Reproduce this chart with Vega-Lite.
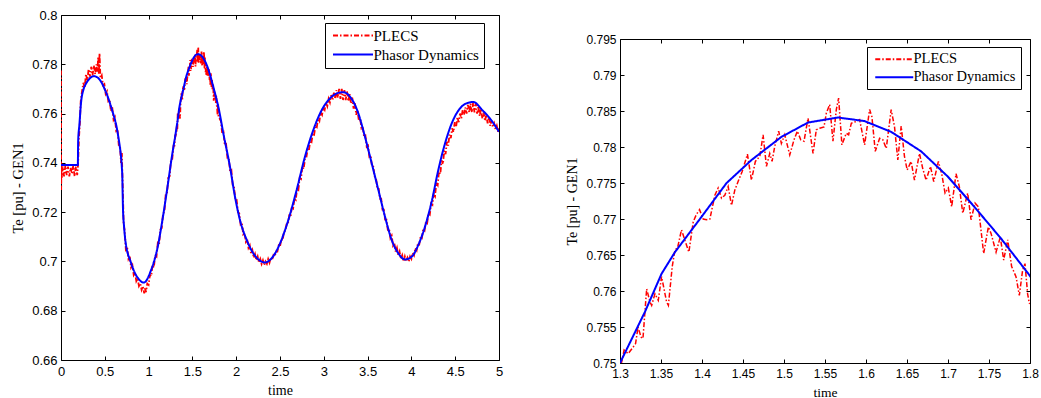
{
"$schema":"https://vega.github.io/schema/vega-lite/v6.json",
"padding":{"left":10,"top":8,"right":0,"bottom":0},
"background":"white",
"spacing":61,
"resolve":{"scale":{"color":"independent","strokeDash":"independent"}},
"config":{
"view":{"stroke":"#000","strokeWidth":1},
"axis":{"domain":false,"grid":false,"tickSize":-4,"tickColor":"#000","tickWidth":1,"labelFont":"Liberation Sans","labelColor":"#000","titleFont":"Liberation Serif","titleFontWeight":"normal","titleColor":"#000","labelFlush":false,"labelOverlap":false}
},
"datasets":{
"red":[
{"t":0,"v":0.7775,"s":"PLECS"},{"t":0.002,"v":0.729,"s":"PLECS"},{"t":0.005,"v":0.74,"s":"PLECS"},{"t":0.01,"v":0.734,"s":"PLECS"},{"t":0.02,"v":0.7385,"s":"PLECS"},{"t":0.035,"v":0.7345,"s":"PLECS"},{"t":0.05,"v":0.739,"s":"PLECS"},{"t":0.065,"v":0.735,"s":"PLECS"},{"t":0.08,"v":0.7385,"s":"PLECS"},{"t":0.095,"v":0.7345,"s":"PLECS"},{"t":0.11,"v":0.738,"s":"PLECS"},{"t":0.125,"v":0.7355,"s":"PLECS"},{"t":0.14,"v":0.739,"s":"PLECS"},{"t":0.155,"v":0.7345,"s":"PLECS"},{"t":0.17,"v":0.7385,"s":"PLECS"},{"t":0.185,"v":0.735,"s":"PLECS"},{"t":0.195,"v":0.7395,"s":"PLECS"},{"t":0.205,"v":0.75,"s":"PLECS"},{"t":0.215,"v":0.756,"s":"PLECS"},{"t":0.225,"v":0.765,"s":"PLECS"},{"t":0.24,"v":0.769,"s":"PLECS"},{"t":0.255,"v":0.7725,"s":"PLECS"},{"t":0.27,"v":0.7705,"s":"PLECS"},{"t":0.285,"v":0.776,"s":"PLECS"},{"t":0.3,"v":0.7735,"s":"PLECS"},{"t":0.315,"v":0.778,"s":"PLECS"},{"t":0.33,"v":0.775,"s":"PLECS"},{"t":0.345,"v":0.779,"s":"PLECS"},{"t":0.36,"v":0.7755,"s":"PLECS"},{"t":0.375,"v":0.7795,"s":"PLECS"},{"t":0.39,"v":0.776,"s":"PLECS"},{"t":0.405,"v":0.78,"s":"PLECS"},{"t":0.415,"v":0.777,"s":"PLECS"},{"t":0.425,"v":0.783,"s":"PLECS"},{"t":0.432,"v":0.776,"s":"PLECS"},{"t":0.44,"v":0.7845,"s":"PLECS"},{"t":0.45,"v":0.7745,"s":"PLECS"},{"t":0.465,"v":0.7755,"s":"PLECS"},{"t":0.48,"v":0.7715,"s":"PLECS"},{"t":0.495,"v":0.772,"s":"PLECS"},{"t":0.51,"v":0.768,"s":"PLECS"},{"t":0.525,"v":0.769,"s":"PLECS"},{"t":0.54,"v":0.765,"s":"PLECS"},{"t":0.555,"v":0.7655,"s":"PLECS"},{"t":0.57,"v":0.761,"s":"PLECS"},{"t":0.585,"v":0.7625,"s":"PLECS"},{"t":0.6,"v":0.7575,"s":"PLECS"},{"t":0.615,"v":0.7585,"s":"PLECS"},{"t":0.63,"v":0.753,"s":"PLECS"},{"t":0.645,"v":0.7535,"s":"PLECS"},{"t":0.66,"v":0.747,"s":"PLECS"},{"t":0.675,"v":0.7465,"s":"PLECS"},{"t":0.685,"v":0.74,"s":"PLECS"},{"t":0.695,"v":0.744,"s":"PLECS"},{"t":0.7,"v":0.736,"s":"PLECS"},{"t":0.705,"v":0.73,"s":"PLECS"},{"t":0.71,"v":0.723,"s":"PLECS"},{"t":0.715,"v":0.715,"s":"PLECS"},{"t":0.725,"v":0.713,"s":"PLECS"},{"t":0.74,"v":0.705,"s":"PLECS"},{"t":0.755,"v":0.706,"s":"PLECS"},{"t":0.77,"v":0.701,"s":"PLECS"},{"t":0.785,"v":0.702,"s":"PLECS"},{"t":0.8,"v":0.6975,"s":"PLECS"},{"t":0.815,"v":0.6985,"s":"PLECS"},{"t":0.83,"v":0.6945,"s":"PLECS"},{"t":0.845,"v":0.6955,"s":"PLECS"},{"t":0.86,"v":0.692,"s":"PLECS"},{"t":0.875,"v":0.693,"s":"PLECS"},{"t":0.89,"v":0.69,"s":"PLECS"},{"t":0.905,"v":0.691,"s":"PLECS"},{"t":0.92,"v":0.6885,"s":"PLECS"},{"t":0.935,"v":0.69,"s":"PLECS"},{"t":0.95,"v":0.687,"s":"PLECS"},{"t":0.96,"v":0.6895,"s":"PLECS"},{"t":0.97,"v":0.6875,"s":"PLECS"},{"t":0.985,"v":0.691,"s":"PLECS"},{"t":1,"v":0.6905,"s":"PLECS"},{"t":1.015,"v":0.6945,"s":"PLECS"},{"t":1.03,"v":0.694,"s":"PLECS"},{"t":1.045,"v":0.6985,"s":"PLECS"},{"t":1.06,"v":0.6975,"s":"PLECS"},{"t":1.075,"v":0.7025,"s":"PLECS"},{"t":1.09,"v":0.702,"s":"PLECS"},{"t":1.105,"v":0.7075,"s":"PLECS"},{"t":1.12,"v":0.707,"s":"PLECS"},{"t":1.135,"v":0.713,"s":"PLECS"},{"t":1.15,"v":0.7135,"s":"PLECS"},{"t":1.165,"v":0.7195,"s":"PLECS"},{"t":1.18,"v":0.72,"s":"PLECS"},{"t":1.195,"v":0.727,"s":"PLECS"},{"t":1.21,"v":0.7275,"s":"PLECS"},{"t":1.225,"v":0.734,"s":"PLECS"},{"t":1.24,"v":0.7345,"s":"PLECS"},{"t":1.255,"v":0.741,"s":"PLECS"},{"t":1.27,"v":0.7415,"s":"PLECS"},{"t":1.285,"v":0.747,"s":"PLECS"},{"t":1.295,"v":0.747,"s":"PLECS"},
{"t":1.3,"v":0.7495,"s":"PLECS"},{"t":1.302,"v":0.7501,"s":"PLECS"},{"t":1.305,"v":0.7518,"s":"PLECS"},{"t":1.31,"v":0.7513,"s":"PLECS"},{"t":1.316,"v":0.7522,"s":"PLECS"},{"t":1.319,"v":0.7527,"s":"PLECS"},{"t":1.322,"v":0.755,"s":"PLECS"},{"t":1.3256,"v":0.7536,"s":"PLECS"},{"t":1.328,"v":0.7534,"s":"PLECS"},{"t":1.3325,"v":0.7603,"s":"PLECS"},{"t":1.3365,"v":0.7585,"s":"PLECS"},{"t":1.3386,"v":0.758,"s":"PLECS"},{"t":1.3426,"v":0.7596,"s":"PLECS"},{"t":1.3467,"v":0.7587,"s":"PLECS"},{"t":1.3507,"v":0.762,"s":"PLECS"},{"t":1.3568,"v":0.7585,"s":"PLECS"},{"t":1.359,"v":0.758,"s":"PLECS"},{"t":1.3637,"v":0.7634,"s":"PLECS"},{"t":1.367,"v":0.7657,"s":"PLECS"},{"t":1.3702,"v":0.766,"s":"PLECS"},{"t":1.375,"v":0.7685,"s":"PLECS"},{"t":1.379,"v":0.7671,"s":"PLECS"},{"t":1.384,"v":0.7654,"s":"PLECS"},{"t":1.3893,"v":0.7696,"s":"PLECS"},{"t":1.393,"v":0.7706,"s":"PLECS"},{"t":1.397,"v":0.7713,"s":"PLECS"},{"t":1.4015,"v":0.77,"s":"PLECS"},{"t":1.4055,"v":0.7699,"s":"PLECS"},{"t":1.4096,"v":0.77,"s":"PLECS"},{"t":1.4157,"v":0.7733,"s":"PLECS"},{"t":1.4197,"v":0.7743,"s":"PLECS"},{"t":1.4238,"v":0.7729,"s":"PLECS"},{"t":1.4278,"v":0.7733,"s":"PLECS"},{"t":1.4319,"v":0.7745,"s":"PLECS"},{"t":1.436,"v":0.7719,"s":"PLECS"},{"t":1.44,"v":0.774,"s":"PLECS"},{"t":1.444,"v":0.7752,"s":"PLECS"},{"t":1.449,"v":0.7766,"s":"PLECS"},{"t":1.4554,"v":0.779,"s":"PLECS"},{"t":1.4603,"v":0.7754,"s":"PLECS"},{"t":1.4651,"v":0.778,"s":"PLECS"},{"t":1.4705,"v":0.7787,"s":"PLECS"},{"t":1.4745,"v":0.7817,"s":"PLECS"},{"t":1.4786,"v":0.7773,"s":"PLECS"},{"t":1.4826,"v":0.7791,"s":"PLECS"},{"t":1.4855,"v":0.778,"s":"PLECS"},{"t":1.4887,"v":0.7801,"s":"PLECS"},{"t":1.4935,"v":0.7822,"s":"PLECS"},{"t":1.4968,"v":0.7805,"s":"PLECS"},{"t":1.5009,"v":0.7817,"s":"PLECS"},{"t":1.507,"v":0.7789,"s":"PLECS"},{"t":1.5122,"v":0.781,"s":"PLECS"},{"t":1.5163,"v":0.7822,"s":"PLECS"},{"t":1.5204,"v":0.781,"s":"PLECS"},{"t":1.5244,"v":0.7808,"s":"PLECS"},{"t":1.5293,"v":0.784,"s":"PLECS"},{"t":1.5354,"v":0.7791,"s":"PLECS"},{"t":1.5394,"v":0.7824,"s":"PLECS"},{"t":1.5435,"v":0.7826,"s":"PLECS"},{"t":1.5488,"v":0.7828,"s":"PLECS"},{"t":1.5516,"v":0.7847,"s":"PLECS"},{"t":1.5557,"v":0.7859,"s":"PLECS"},{"t":1.5597,"v":0.7808,"s":"PLECS"},{"t":1.5638,"v":0.7852,"s":"PLECS"},{"t":1.5666,"v":0.7868,"s":"PLECS"},{"t":1.5706,"v":0.7803,"s":"PLECS"},{"t":1.5759,"v":0.7819,"s":"PLECS"},{"t":1.5788,"v":0.7817,"s":"PLECS"},{"t":1.5821,"v":0.7833,"s":"PLECS"},{"t":1.5869,"v":0.7835,"s":"PLECS"},{"t":1.5922,"v":0.7838,"s":"PLECS"},{"t":1.5983,"v":0.7803,"s":"PLECS"},{"t":1.6044,"v":0.7852,"s":"PLECS"},{"t":1.6072,"v":0.7842,"s":"PLECS"},{"t":1.6113,"v":0.7794,"s":"PLECS"},{"t":1.6166,"v":0.7812,"s":"PLECS"},{"t":1.6206,"v":0.781,"s":"PLECS"},{"t":1.6247,"v":0.7798,"s":"PLECS"},{"t":1.6307,"v":0.7852,"s":"PLECS"},{"t":1.6348,"v":0.7828,"s":"PLECS"},{"t":1.6388,"v":0.7782,"s":"PLECS"},{"t":1.6429,"v":0.7829,"s":"PLECS"},{"t":1.6469,"v":0.7787,"s":"PLECS"},{"t":1.6502,"v":0.7768,"s":"PLECS"},{"t":1.655,"v":0.778,"s":"PLECS"},{"t":1.6591,"v":0.7754,"s":"PLECS"},{"t":1.6652,"v":0.7791,"s":"PLECS"},{"t":1.6692,"v":0.777,"s":"PLECS"},{"t":1.6733,"v":0.7754,"s":"PLECS"},{"t":1.6786,"v":0.7773,"s":"PLECS"},{"t":1.6826,"v":0.7752,"s":"PLECS"},{"t":1.6883,"v":0.778,"s":"PLECS"},{"t":1.6923,"v":0.7763,"s":"PLECS"},{"t":1.6964,"v":0.7736,"s":"PLECS"},{"t":1.7004,"v":0.7743,"s":"PLECS"},{"t":1.7045,"v":0.7717,"s":"PLECS"},{"t":1.7098,"v":0.7763,"s":"PLECS"},{"t":1.7138,"v":0.7745,"s":"PLECS"},{"t":1.718,"v":0.7708,"s":"PLECS"},{"t":1.724,"v":0.7736,"s":"PLECS"},{"t":1.7281,"v":0.7699,"s":"PLECS"},{"t":1.733,"v":0.7722,"s":"PLECS"},{"t":1.737,"v":0.7717,"s":"PLECS"},{"t":1.7435,"v":0.7652,"s":"PLECS"},{"t":1.7492,"v":0.7689,"s":"PLECS"},{"t":1.7525,"v":0.768,"s":"PLECS"},{"t":1.7586,"v":0.7654,"s":"PLECS"},{"t":1.7638,"v":0.7675,"s":"PLECS"},{"t":1.7679,"v":0.7643,"s":"PLECS"},{"t":1.7728,"v":0.7671,"s":"PLECS"},{"t":1.7776,"v":0.7634,"s":"PLECS"},{"t":1.7829,"v":0.762,"s":"PLECS"},{"t":1.787,"v":0.7594,"s":"PLECS"},{"t":1.791,"v":0.7629,"s":"PLECS"},{"t":1.7939,"v":0.7638,"s":"PLECS"},{"t":1.7971,"v":0.7596,"s":"PLECS"},{"t":1.7992,"v":0.7583,"s":"PLECS"},
{"t":1.81,"v":0.758,"s":"PLECS"},{"t":1.825,"v":0.757,"s":"PLECS"},{"t":1.84,"v":0.752,"s":"PLECS"},{"t":1.855,"v":0.7525,"s":"PLECS"},{"t":1.87,"v":0.747,"s":"PLECS"},{"t":1.885,"v":0.7475,"s":"PLECS"},{"t":1.9,"v":0.742,"s":"PLECS"},{"t":1.915,"v":0.742,"s":"PLECS"},{"t":1.93,"v":0.7365,"s":"PLECS"},{"t":1.945,"v":0.737,"s":"PLECS"},{"t":1.96,"v":0.731,"s":"PLECS"},{"t":1.975,"v":0.7305,"s":"PLECS"},{"t":1.99,"v":0.725,"s":"PLECS"},{"t":2.005,"v":0.725,"s":"PLECS"},{"t":2.02,"v":0.72,"s":"PLECS"},{"t":2.035,"v":0.7195,"s":"PLECS"},{"t":2.05,"v":0.715,"s":"PLECS"},{"t":2.065,"v":0.7155,"s":"PLECS"},{"t":2.08,"v":0.711,"s":"PLECS"},{"t":2.095,"v":0.7115,"s":"PLECS"},{"t":2.11,"v":0.708,"s":"PLECS"},{"t":2.125,"v":0.709,"s":"PLECS"},{"t":2.14,"v":0.7055,"s":"PLECS"},{"t":2.155,"v":0.7065,"s":"PLECS"},{"t":2.17,"v":0.703,"s":"PLECS"},{"t":2.185,"v":0.7045,"s":"PLECS"},{"t":2.2,"v":0.7015,"s":"PLECS"},{"t":2.215,"v":0.703,"s":"PLECS"},{"t":2.23,"v":0.7005,"s":"PLECS"},{"t":2.245,"v":0.702,"s":"PLECS"},{"t":2.26,"v":0.6995,"s":"PLECS"},{"t":2.275,"v":0.701,"s":"PLECS"},{"t":2.29,"v":0.699,"s":"PLECS"},{"t":2.305,"v":0.7005,"s":"PLECS"},{"t":2.32,"v":0.6985,"s":"PLECS"},{"t":2.335,"v":0.7,"s":"PLECS"},{"t":2.35,"v":0.699,"s":"PLECS"},{"t":2.365,"v":0.701,"s":"PLECS"},{"t":2.38,"v":0.6995,"s":"PLECS"},{"t":2.395,"v":0.7015,"s":"PLECS"},{"t":2.41,"v":0.7005,"s":"PLECS"},{"t":2.425,"v":0.7025,"s":"PLECS"},{"t":2.44,"v":0.702,"s":"PLECS"},{"t":2.455,"v":0.704,"s":"PLECS"},{"t":2.47,"v":0.704,"s":"PLECS"},{"t":2.485,"v":0.7065,"s":"PLECS"},{"t":2.5,"v":0.706,"s":"PLECS"},{"t":2.515,"v":0.709,"s":"PLECS"},{"t":2.53,"v":0.7085,"s":"PLECS"},{"t":2.545,"v":0.712,"s":"PLECS"},{"t":2.56,"v":0.7125,"s":"PLECS"},{"t":2.575,"v":0.715,"s":"PLECS"},{"t":2.59,"v":0.715,"s":"PLECS"},{"t":2.605,"v":0.7185,"s":"PLECS"},{"t":2.62,"v":0.718,"s":"PLECS"},{"t":2.635,"v":0.722,"s":"PLECS"},{"t":2.65,"v":0.7215,"s":"PLECS"},{"t":2.665,"v":0.7255,"s":"PLECS"},{"t":2.68,"v":0.725,"s":"PLECS"},{"t":2.695,"v":0.7295,"s":"PLECS"},{"t":2.71,"v":0.729,"s":"PLECS"},{"t":2.725,"v":0.734,"s":"PLECS"},{"t":2.74,"v":0.7335,"s":"PLECS"},{"t":2.755,"v":0.7385,"s":"PLECS"},{"t":2.77,"v":0.7375,"s":"PLECS"},{"t":2.785,"v":0.7415,"s":"PLECS"},{"t":2.8,"v":0.742,"s":"PLECS"},{"t":2.815,"v":0.7455,"s":"PLECS"},{"t":2.83,"v":0.745,"s":"PLECS"},{"t":2.845,"v":0.749,"s":"PLECS"},{"t":2.86,"v":0.7485,"s":"PLECS"},{"t":2.875,"v":0.752,"s":"PLECS"},{"t":2.89,"v":0.7515,"s":"PLECS"},{"t":2.905,"v":0.755,"s":"PLECS"},{"t":2.92,"v":0.7545,"s":"PLECS"},{"t":2.935,"v":0.758,"s":"PLECS"},{"t":2.95,"v":0.757,"s":"PLECS"},{"t":2.965,"v":0.7605,"s":"PLECS"},{"t":2.98,"v":0.7595,"s":"PLECS"},{"t":2.995,"v":0.7625,"s":"PLECS"},{"t":3.01,"v":0.7615,"s":"PLECS"},{"t":3.025,"v":0.7645,"s":"PLECS"},{"t":3.04,"v":0.763,"s":"PLECS"},{"t":3.055,"v":0.766,"s":"PLECS"},{"t":3.07,"v":0.7645,"s":"PLECS"},{"t":3.085,"v":0.7675,"s":"PLECS"},{"t":3.1,"v":0.7655,"s":"PLECS"},{"t":3.115,"v":0.7685,"s":"PLECS"},{"t":3.13,"v":0.766,"s":"PLECS"},{"t":3.145,"v":0.7695,"s":"PLECS"},{"t":3.16,"v":0.7665,"s":"PLECS"},{"t":3.175,"v":0.77,"s":"PLECS"},{"t":3.19,"v":0.766,"s":"PLECS"},{"t":3.205,"v":0.77,"s":"PLECS"},{"t":3.22,"v":0.7655,"s":"PLECS"},{"t":3.235,"v":0.7695,"s":"PLECS"},{"t":3.25,"v":0.7655,"s":"PLECS"},{"t":3.265,"v":0.769,"s":"PLECS"},{"t":3.28,"v":0.765,"s":"PLECS"},{"t":3.295,"v":0.768,"s":"PLECS"},{"t":3.31,"v":0.764,"s":"PLECS"},{"t":3.325,"v":0.7665,"s":"PLECS"},{"t":3.34,"v":0.762,"s":"PLECS"},{"t":3.355,"v":0.7645,"s":"PLECS"},{"t":3.37,"v":0.7595,"s":"PLECS"},{"t":3.385,"v":0.7615,"s":"PLECS"},{"t":3.4,"v":0.757,"s":"PLECS"},{"t":3.415,"v":0.758,"s":"PLECS"},{"t":3.43,"v":0.754,"s":"PLECS"},{"t":3.445,"v":0.7545,"s":"PLECS"},{"t":3.46,"v":0.7505,"s":"PLECS"},{"t":3.475,"v":0.751,"s":"PLECS"},{"t":3.49,"v":0.7465,"s":"PLECS"},{"t":3.505,"v":0.747,"s":"PLECS"},{"t":3.52,"v":0.7425,"s":"PLECS"},{"t":3.535,"v":0.743,"s":"PLECS"},{"t":3.55,"v":0.7385,"s":"PLECS"},{"t":3.565,"v":0.7385,"s":"PLECS"},{"t":3.58,"v":0.7345,"s":"PLECS"},{"t":3.595,"v":0.734,"s":"PLECS"},{"t":3.61,"v":0.73,"s":"PLECS"},{"t":3.625,"v":0.73,"s":"PLECS"},{"t":3.64,"v":0.7255,"s":"PLECS"},{"t":3.655,"v":0.7255,"s":"PLECS"},{"t":3.67,"v":0.721,"s":"PLECS"},{"t":3.685,"v":0.721,"s":"PLECS"},{"t":3.7,"v":0.717,"s":"PLECS"},{"t":3.715,"v":0.717,"s":"PLECS"},{"t":3.73,"v":0.713,"s":"PLECS"},{"t":3.745,"v":0.7135,"s":"PLECS"},{"t":3.76,"v":0.7095,"s":"PLECS"},{"t":3.775,"v":0.7105,"s":"PLECS"},{"t":3.79,"v":0.7065,"s":"PLECS"},{"t":3.805,"v":0.7075,"s":"PLECS"},{"t":3.82,"v":0.704,"s":"PLECS"},{"t":3.835,"v":0.7055,"s":"PLECS"},{"t":3.85,"v":0.7025,"s":"PLECS"},{"t":3.865,"v":0.704,"s":"PLECS"},{"t":3.88,"v":0.701,"s":"PLECS"},{"t":3.895,"v":0.7025,"s":"PLECS"},{"t":3.91,"v":0.7,"s":"PLECS"},{"t":3.925,"v":0.702,"s":"PLECS"},{"t":3.94,"v":0.7,"s":"PLECS"},{"t":3.955,"v":0.7015,"s":"PLECS"},{"t":3.97,"v":0.7,"s":"PLECS"},{"t":3.985,"v":0.702,"s":"PLECS"},{"t":4,"v":0.701,"s":"PLECS"},{"t":4.015,"v":0.7035,"s":"PLECS"},{"t":4.03,"v":0.7025,"s":"PLECS"},{"t":4.045,"v":0.7055,"s":"PLECS"},{"t":4.06,"v":0.7045,"s":"PLECS"},{"t":4.075,"v":0.7075,"s":"PLECS"},{"t":4.09,"v":0.707,"s":"PLECS"},{"t":4.105,"v":0.71,"s":"PLECS"},{"t":4.12,"v":0.7095,"s":"PLECS"},{"t":4.135,"v":0.713,"s":"PLECS"},{"t":4.15,"v":0.7125,"s":"PLECS"},{"t":4.165,"v":0.716,"s":"PLECS"},{"t":4.18,"v":0.7155,"s":"PLECS"},{"t":4.195,"v":0.7195,"s":"PLECS"},{"t":4.21,"v":0.719,"s":"PLECS"},{"t":4.225,"v":0.7235,"s":"PLECS"},{"t":4.24,"v":0.723,"s":"PLECS"},{"t":4.255,"v":0.7275,"s":"PLECS"},{"t":4.27,"v":0.7265,"s":"PLECS"},{"t":4.285,"v":0.732,"s":"PLECS"},{"t":4.3,"v":0.731,"s":"PLECS"},{"t":4.315,"v":0.7365,"s":"PLECS"},{"t":4.33,"v":0.7355,"s":"PLECS"},{"t":4.345,"v":0.741,"s":"PLECS"},{"t":4.36,"v":0.7395,"s":"PLECS"},{"t":4.375,"v":0.745,"s":"PLECS"},{"t":4.39,"v":0.7435,"s":"PLECS"},{"t":4.405,"v":0.7485,"s":"PLECS"},{"t":4.42,"v":0.747,"s":"PLECS"},{"t":4.435,"v":0.7515,"s":"PLECS"},{"t":4.45,"v":0.75,"s":"PLECS"},{"t":4.465,"v":0.754,"s":"PLECS"},{"t":4.48,"v":0.7525,"s":"PLECS"},{"t":4.495,"v":0.7565,"s":"PLECS"},{"t":4.51,"v":0.7545,"s":"PLECS"},{"t":4.525,"v":0.7585,"s":"PLECS"},{"t":4.54,"v":0.7565,"s":"PLECS"},{"t":4.555,"v":0.76,"s":"PLECS"},{"t":4.57,"v":0.758,"s":"PLECS"},{"t":4.585,"v":0.7615,"s":"PLECS"},{"t":4.6,"v":0.7595,"s":"PLECS"},{"t":4.615,"v":0.7625,"s":"PLECS"},{"t":4.63,"v":0.76,"s":"PLECS"},{"t":4.645,"v":0.7635,"s":"PLECS"},{"t":4.66,"v":0.7605,"s":"PLECS"},{"t":4.675,"v":0.764,"s":"PLECS"},{"t":4.69,"v":0.7605,"s":"PLECS"},{"t":4.705,"v":0.7645,"s":"PLECS"},{"t":4.72,"v":0.7605,"s":"PLECS"},{"t":4.735,"v":0.764,"s":"PLECS"},{"t":4.75,"v":0.76,"s":"PLECS"},{"t":4.765,"v":0.763,"s":"PLECS"},{"t":4.78,"v":0.759,"s":"PLECS"},{"t":4.795,"v":0.762,"s":"PLECS"},{"t":4.81,"v":0.758,"s":"PLECS"},{"t":4.825,"v":0.7605,"s":"PLECS"},{"t":4.84,"v":0.757,"s":"PLECS"},{"t":4.855,"v":0.7595,"s":"PLECS"},{"t":4.87,"v":0.756,"s":"PLECS"},{"t":4.885,"v":0.7585,"s":"PLECS"},{"t":4.9,"v":0.755,"s":"PLECS"},{"t":4.915,"v":0.757,"s":"PLECS"},{"t":4.93,"v":0.7545,"s":"PLECS"},{"t":4.945,"v":0.756,"s":"PLECS"},{"t":4.96,"v":0.7535,"s":"PLECS"},{"t":4.975,"v":0.755,"s":"PLECS"},{"t":4.99,"v":0.7525,"s":"PLECS"},{"t":5,"v":0.754,"s":"PLECS"}
],
"blue":[
{"t":0,"v":0.7391,"s":"Phasor Dynamics"},{"t":0.192,"v":0.7391,"s":"Phasor Dynamics"},{"t":0.196,"v":0.749,"s":"Phasor Dynamics"},{"t":0.21,"v":0.7554,"s":"Phasor Dynamics"},{"t":0.228,"v":0.7642,"s":"Phasor Dynamics"},{"t":0.255,"v":0.7696,"s":"Phasor Dynamics"},{"t":0.28,"v":0.7718,"s":"Phasor Dynamics"},{"t":0.312,"v":0.7736,"s":"Phasor Dynamics"},{"t":0.345,"v":0.7748,"s":"Phasor Dynamics"},{"t":0.377,"v":0.7752,"s":"Phasor Dynamics"},{"t":0.41,"v":0.7748,"s":"Phasor Dynamics"},{"t":0.445,"v":0.7736,"s":"Phasor Dynamics"},{"t":0.475,"v":0.7718,"s":"Phasor Dynamics"},{"t":0.502,"v":0.7696,"s":"Phasor Dynamics"},{"t":0.53,"v":0.7672,"s":"Phasor Dynamics"},{"t":0.559,"v":0.7642,"s":"Phasor Dynamics"},{"t":0.59,"v":0.7606,"s":"Phasor Dynamics"},{"t":0.616,"v":0.7574,"s":"Phasor Dynamics"},{"t":0.635,"v":0.7545,"s":"Phasor Dynamics"},{"t":0.654,"v":0.7506,"s":"Phasor Dynamics"},{"t":0.67,"v":0.747,"s":"Phasor Dynamics"},{"t":0.685,"v":0.7425,"s":"Phasor Dynamics"},{"t":0.695,"v":0.738,"s":"Phasor Dynamics"},{"t":0.7,"v":0.7344,"s":"Phasor Dynamics"},{"t":0.704,"v":0.727,"s":"Phasor Dynamics"},{"t":0.708,"v":0.7209,"s":"Phasor Dynamics"},{"t":0.72,"v":0.7141,"s":"Phasor Dynamics"},{"t":0.739,"v":0.7073,"s":"Phasor Dynamics"},{"t":0.76,"v":0.7035,"s":"Phasor Dynamics"},{"t":0.788,"v":0.7006,"s":"Phasor Dynamics"},{"t":0.815,"v":0.6978,"s":"Phasor Dynamics"},{"t":0.845,"v":0.6952,"s":"Phasor Dynamics"},{"t":0.875,"v":0.6934,"s":"Phasor Dynamics"},{"t":0.903,"v":0.6922,"s":"Phasor Dynamics"},{"t":0.941,"v":0.6914,"s":"Phasor Dynamics"},{"t":0.97,"v":0.692,"s":"Phasor Dynamics"},{"t":0.998,"v":0.6938,"s":"Phasor Dynamics"},{"t":1.025,"v":0.6962,"s":"Phasor Dynamics"},{"t":1.055,"v":0.6992,"s":"Phasor Dynamics"},{"t":1.085,"v":0.703,"s":"Phasor Dynamics"},{"t":1.112,"v":0.7073,"s":"Phasor Dynamics"},{"t":1.14,"v":0.713,"s":"Phasor Dynamics"},{"t":1.17,"v":0.7195,"s":"Phasor Dynamics"},{"t":1.2,"v":0.7265,"s":"Phasor Dynamics"},{"t":1.227,"v":0.733,"s":"Phasor Dynamics"},{"t":1.255,"v":0.74,"s":"Phasor Dynamics"},{"t":1.284,"v":0.7466,"s":"Phasor Dynamics"},{"t":1.3,"v":0.75,"s":"Phasor Dynamics"},{"t":1.3304,"v":0.7571,"s":"Phasor Dynamics"},{"t":1.3507,"v":0.7624,"s":"Phasor Dynamics"},{"t":1.367,"v":0.7654,"s":"Phasor Dynamics"},{"t":1.3994,"v":0.7703,"s":"Phasor Dynamics"},{"t":1.43,"v":0.775,"s":"Phasor Dynamics"},{"t":1.4604,"v":0.7782,"s":"Phasor Dynamics"},{"t":1.4968,"v":0.7814,"s":"Phasor Dynamics"},{"t":1.5293,"v":0.7834,"s":"Phasor Dynamics"},{"t":1.5658,"v":0.7841,"s":"Phasor Dynamics"},{"t":1.5983,"v":0.7836,"s":"Phasor Dynamics"},{"t":1.6307,"v":0.7821,"s":"Phasor Dynamics"},{"t":1.6672,"v":0.7794,"s":"Phasor Dynamics"},{"t":1.6997,"v":0.7759,"s":"Phasor Dynamics"},{"t":1.7321,"v":0.7717,"s":"Phasor Dynamics"},{"t":1.7646,"v":0.7673,"s":"Phasor Dynamics"},{"t":1.8,"v":0.7621,"s":"Phasor Dynamics"},{"t":1.853,"v":0.752,"s":"Phasor Dynamics"},{"t":1.929,"v":0.7384,"s":"Phasor Dynamics"},{"t":1.986,"v":0.7263,"s":"Phasor Dynamics"},{"t":2.043,"v":0.7168,"s":"Phasor Dynamics"},{"t":2.12,"v":0.7087,"s":"Phasor Dynamics"},{"t":2.195,"v":0.7033,"s":"Phasor Dynamics"},{"t":2.272,"v":0.7003,"s":"Phasor Dynamics"},{"t":2.329,"v":0.6996,"s":"Phasor Dynamics"},{"t":2.405,"v":0.7013,"s":"Phasor Dynamics"},{"t":2.5,"v":0.7073,"s":"Phasor Dynamics"},{"t":2.595,"v":0.7168,"s":"Phasor Dynamics"},{"t":2.69,"v":0.729,"s":"Phasor Dynamics"},{"t":2.785,"v":0.7425,"s":"Phasor Dynamics"},{"t":2.88,"v":0.7533,"s":"Phasor Dynamics"},{"t":2.976,"v":0.7614,"s":"Phasor Dynamics"},{"t":3.071,"v":0.7662,"s":"Phasor Dynamics"},{"t":3.15,"v":0.7682,"s":"Phasor Dynamics"},{"t":3.22,"v":0.7687,"s":"Phasor Dynamics"},{"t":3.3,"v":0.7668,"s":"Phasor Dynamics"},{"t":3.356,"v":0.7635,"s":"Phasor Dynamics"},{"t":3.394,"v":0.7601,"s":"Phasor Dynamics"},{"t":3.47,"v":0.7506,"s":"Phasor Dynamics"},{"t":3.547,"v":0.7398,"s":"Phasor Dynamics"},{"t":3.623,"v":0.729,"s":"Phasor Dynamics"},{"t":3.699,"v":0.7181,"s":"Phasor Dynamics"},{"t":3.775,"v":0.7087,"s":"Phasor Dynamics"},{"t":3.851,"v":0.7033,"s":"Phasor Dynamics"},{"t":3.927,"v":0.7008,"s":"Phasor Dynamics"},{"t":4.003,"v":0.7019,"s":"Phasor Dynamics"},{"t":4.079,"v":0.7067,"s":"Phasor Dynamics"},{"t":4.155,"v":0.7141,"s":"Phasor Dynamics"},{"t":4.231,"v":0.7242,"s":"Phasor Dynamics"},{"t":4.307,"v":0.7371,"s":"Phasor Dynamics"},{"t":4.384,"v":0.7479,"s":"Phasor Dynamics"},{"t":4.46,"v":0.756,"s":"Phasor Dynamics"},{"t":4.555,"v":0.7621,"s":"Phasor Dynamics"},{"t":4.65,"v":0.7644,"s":"Phasor Dynamics"},{"t":4.71,"v":0.7647,"s":"Phasor Dynamics"},{"t":4.726,"v":0.7645,"s":"Phasor Dynamics"},{"t":4.802,"v":0.7617,"s":"Phasor Dynamics"},{"t":4.897,"v":0.758,"s":"Phasor Dynamics"},{"t":5,"v":0.7526,"s":"Phasor Dynamics"}
]
},
"hconcat":[
{
"width":438,"height":345,
"layer":[
{"data":{"name":"red"},"mark":{"type":"line","clip":true,"strokeWidth":1.8},
"encoding":{
"x":{"field":"t","type":"quantitative","scale":{"domain":[0,5],"nice":false,"zero":false},"axis":{"orient":"bottom","values":[0,0.5,1,1.5,2,2.5,3,3.5,4,4.5,5],"format":"~g","title":"time","labelFontSize":13,"titleFontSize":14,"labelPadding":9,"titlePadding":5}},
"y":{"field":"v","type":"quantitative","scale":{"domain":[0.66,0.8],"nice":false,"zero":false},"axis":{"orient":"left","values":[0.66,0.68,0.7,0.72,0.74,0.76,0.78,0.8],"format":"~g","title":"Te [pu] - GEN1","labelFontSize":13,"titleFontSize":14.5,"labelPadding":8,"titlePadding":6}},
"color":{"field":"s","type":"nominal","scale":{"domain":["PLECS","Phasor Dynamics"],"range":["#ff0000","#0000ff"]},"legend":{"title":null,"orient":"none","direction":"vertical","legendX":264,"legendY":8,"symbolType":"M0,0L8,0","symbolSize":100,"symbolOffset":-4.5,"labelOffset":33,"labelFont":"Liberation Serif","labelFontSize":15,"labelColor":"#000","padding":5,"rowPadding":3,"strokeColor":"#000","fillColor":"#fff","symbolStrokeWidth":1.8,"labelLimit":300}},
"strokeDash":{"field":"s","type":"nominal","scale":{"domain":["PLECS","Phasor Dynamics"],"range":[[5,2,1.5,2],[1,0]]},"legend":{"title":null,"orient":"none","direction":"vertical","legendX":264,"legendY":8,"symbolType":"M0,0L8,0","symbolSize":100,"symbolOffset":-4.5,"labelOffset":33,"labelFont":"Liberation Serif","labelFontSize":15,"labelColor":"#000","padding":5,"rowPadding":3,"strokeColor":"#000","fillColor":"#fff","symbolStrokeWidth":1.8,"labelLimit":300}}
}},
{"data":{"name":"blue"},"mark":{"type":"line","clip":true,"strokeWidth":2,"interpolate":"monotone"},
"encoding":{
"x":{"field":"t","type":"quantitative","axis":{"orient":"top","values":[0,0.5,1,1.5,2,2.5,3,3.5,4,4.5,5],"labels":false,"title":null}},
"y":{"field":"v","type":"quantitative","axis":{"orient":"right","values":[0.66,0.68,0.7,0.72,0.74,0.76,0.78,0.8],"labels":false,"title":null}},
"color":{"field":"s","type":"nominal"},
"strokeDash":{"field":"s","type":"nominal"}
}}
],
"resolve":{"axis":{"x":"independent","y":"independent"}}
},
{
"spacing":13,
"resolve":{"scale":{"color":"independent","strokeDash":"independent"}},
"vconcat":[
{"data":{"values":[]},"mark":"point","width":410,"height":4,"view":{"stroke":null}},
{
"width":410,"height":324,
"layer":[
{"data":{"name":"red"},"mark":{"type":"line","clip":true,"strokeWidth":1.5},
"encoding":{
"x":{"field":"t","type":"quantitative","scale":{"domain":[1.3,1.8],"nice":false,"zero":false},"axis":{"orient":"bottom","values":[1.3,1.35,1.4,1.45,1.5,1.55,1.6,1.65,1.7,1.75,1.8],"format":"~g","title":"time","labelFontSize":12,"titleFontSize":13.5,"labelPadding":9,"titlePadding":6}},
"y":{"field":"v","type":"quantitative","scale":{"domain":[0.75,0.795],"nice":false,"zero":false},"axis":{"orient":"left","values":[0.75,0.755,0.76,0.765,0.77,0.775,0.78,0.785,0.79,0.795],"format":"~g","title":"Te [pu] - GEN1","labelFontSize":12,"titleFontSize":14,"labelPadding":8,"titlePadding":6}},
"color":{"field":"s","type":"nominal","scale":{"domain":["PLECS","Phasor Dynamics"],"range":["#ff0000","#0000ff"]},"legend":{"title":null,"orient":"none","direction":"vertical","legendX":247,"legendY":8,"symbolType":"M0,0L7.6,0","symbolSize":100,"symbolOffset":-4,"labelOffset":31,"labelFont":"Liberation Serif","labelFontSize":14.5,"labelColor":"#000","padding":5,"rowPadding":3,"strokeColor":"#000","fillColor":"#fff","symbolStrokeWidth":1.8,"labelLimit":300}},
"strokeDash":{"field":"s","type":"nominal","scale":{"domain":["PLECS","Phasor Dynamics"],"range":[[5,2,1.5,2],[1,0]]},"legend":{"title":null,"orient":"none","direction":"vertical","legendX":247,"legendY":8,"symbolType":"M0,0L7.6,0","symbolSize":100,"symbolOffset":-4,"labelOffset":31,"labelFont":"Liberation Serif","labelFontSize":14.5,"labelColor":"#000","padding":5,"rowPadding":3,"strokeColor":"#000","fillColor":"#fff","symbolStrokeWidth":1.8,"labelLimit":300}}
}},
{"data":{"name":"blue"},"mark":{"type":"line","clip":true,"strokeWidth":2},
"encoding":{
"x":{"field":"t","type":"quantitative","axis":{"orient":"top","values":[1.3,1.35,1.4,1.45,1.5,1.55,1.6,1.65,1.7,1.75,1.8],"labels":false,"title":null}},
"y":{"field":"v","type":"quantitative","axis":{"orient":"right","values":[0.75,0.755,0.76,0.765,0.77,0.775,0.78,0.785,0.79,0.795],"labels":false,"title":null}},
"color":{"field":"s","type":"nominal"},
"strokeDash":{"field":"s","type":"nominal"}
}}
],
"resolve":{"axis":{"x":"independent","y":"independent"}}
}
]
}
]
}
